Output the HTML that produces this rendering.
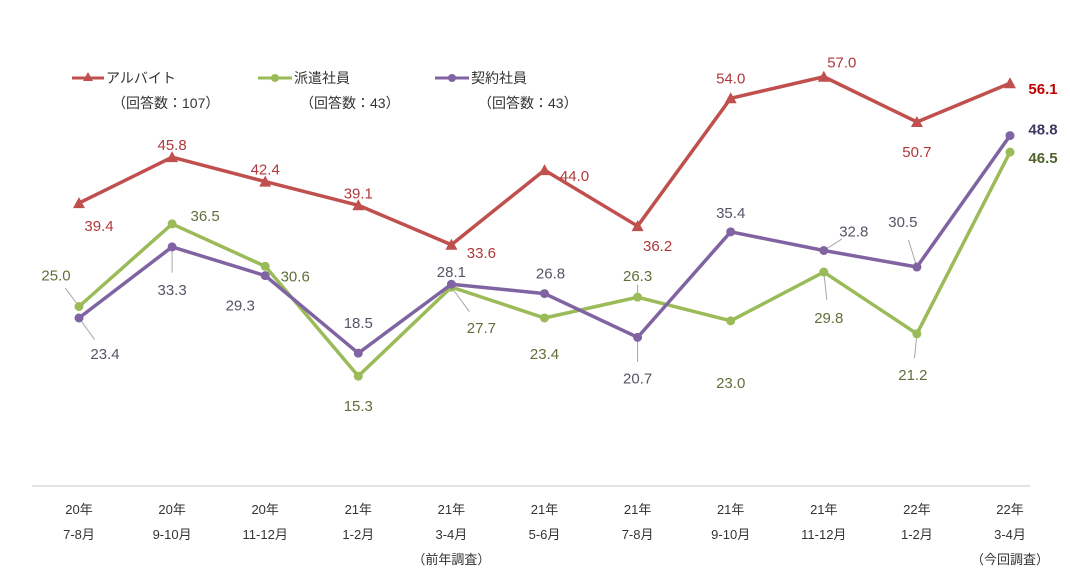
<!DOCTYPE html>
<html><head><meta charset="utf-8">
<style>
body{margin:0;background:#fff;}
svg{display:block;font-family:"Liberation Sans","Noto Sans CJK JP",sans-serif;}
</style></head>
<body>
<svg id="chart" width="1070" height="585" viewBox="0 0 1070 585">
  <line x1="32" y1="486" x2="1030" y2="486" stroke="#d9d9d9" stroke-width="1.5"/>
  <g id="legend">
    <g>
      <line x1="72" y1="78" x2="104" y2="78" stroke="#c0504d" stroke-width="3"/>
      <polygon points="88,72 93,81 83,81" fill="#c0504d"/>
      <text x="106" y="83" font-size="14" fill="#333">アルバイト</text>
      <text x="112" y="108" font-size="14" fill="#333">（回答数：107）</text>
    </g>
    <g>
      <line x1="258" y1="78" x2="292" y2="78" stroke="#9bbb59" stroke-width="3"/>
      <circle cx="275" cy="78" r="4" fill="#9bbb59"/>
      <text x="294" y="83" font-size="14" fill="#333">派遣社員</text>
      <text x="300" y="108" font-size="14" fill="#333">（回答数：43）</text>
    </g>
    <g>
      <line x1="435" y1="78" x2="469" y2="78" stroke="#8064a2" stroke-width="3"/>
      <circle cx="452" cy="78" r="4" fill="#8064a2"/>
      <text x="471" y="83" font-size="14" fill="#333">契約社員</text>
      <text x="478" y="108" font-size="14" fill="#333">（回答数：43）</text>
    </g>
  </g>
  <g id="xlabels"></g>
  <g id="leaders"></g>
  <g id="series"></g>
  <g id="labels"></g>
</svg>
<script>
const catYears = ["20年","20年","20年","21年","21年","21年","21年","21年","21年","22年","22年"];
const catMonths = ["7-8月","9-10月","11-12月","1-2月","3-4月","5-6月","7-8月","9-10月","11-12月","1-2月","3-4月"];
const catNotes = ["","","","","（前年調査）","","","","","","（今回調査）"];
const arubaito = [39.4,45.8,42.4,39.1,33.6,44.0,36.2,54.0,57.0,50.7,56.1];
const haken = [25.0,36.5,30.6,15.3,27.7,23.4,26.3,23.0,29.8,21.2,46.5];
const keiyaku = [23.4,33.3,29.3,18.5,28.1,26.8,20.7,35.4,32.8,30.5,48.8];

const NS="http://www.w3.org/2000/svg";
function xScale(i){return 79+i*93.1;}
function yScale(v){return 486-v*7.18;}
function mk(tag,attrs,parent){const e=document.createElementNS(NS,tag);for(const k in attrs)e.setAttribute(k,attrs[k]);parent.appendChild(e);return e;}

const xl=document.getElementById('xlabels');
catYears.forEach((y,i)=>{
  const x=xScale(i);
  const t1=mk('text',{x:x,y:514,'font-size':13,'text-anchor':'middle',fill:'#333'},xl);
  t1.textContent=y;
  
  
  const t2=mk('text',{x:x,y:539,'font-size':13,'text-anchor':'middle',fill:'#333'},xl);
  t2.textContent=catMonths[i];
  
  
  if(catNotes[i]){
    const t3=mk('text',{x:x,y:564,'font-size':13,'text-anchor':'middle',fill:'#333'},xl);
    t3.textContent=catNotes[i];
    
    
  }
});

const sg=document.getElementById('series');
const lg=document.getElementById('labels');
const ld=document.getElementById('leaders');
const series=[
  {name:'arubaito',vals:arubaito,color:'#c0504d',tc:'#b0383a',bc:'#c00000',marker:'tri',
   off:[[20,23],[0,-12],[0,-12],[0,-12],[30,8],[30,6],[20,20],[0,-20],[18,-14],[0,30],[33,6]],
   lead:[0,0,0,0,0,0,0,0,0,0,0]},
  {name:'haken',vals:haken,color:'#9bbb59',tc:'#5f6f3a',bc:'#4f6228',marker:'dot',
   off:[[-23,-31],[33,-8],[30,10],[0,30],[30,41],[0,36],[0,-21],[0,62],[5,46],[-4,41],[33,6]],
   lead:[1,0,0,0,1,0,1,0,1,1,0]},
  {name:'keiyaku',vals:keiyaku,color:'#8064a2',tc:'#555566',bc:'#403860',marker:'dot',
   off:[[26,36],[0,43],[-25,30],[0,-30],[0,-12],[6,-20],[0,41],[0,-19],[30,-19],[-14,-45],[33,-6]],
   lead:[1,1,0,0,0,0,1,0,1,1,0]}
];
series.forEach(s=>{
  s.vals.forEach((v,i)=>{
    if(!s.lead[i])return;
    const x=xScale(i),y=yScale(v),o=s.off[i];
    const tx=x+o[0]*0.6, ty=y+o[1]*0.6;
    const l=mk('line',{x1:x,y1:y,x2:tx,y2:ty,stroke:'#a6a6a6','stroke-width':1},ld);
    
    
  });
});
series.forEach(s=>{
  const pts=s.vals.map((v,i)=>xScale(i)+','+yScale(v)).join(' ');
  const pl=mk('polyline',{points:pts,fill:'none',stroke:s.color,'stroke-width':3.5,'stroke-linejoin':'round'},sg);
  
  
  s.vals.forEach((v,i)=>{
    const x=xScale(i),y=yScale(v);
    let m;
    if(s.marker==='tri') m=mk('polygon',{points:`${x},${y-6} ${x+6},${y+5} ${x-6},${y+5}`,fill:s.color},sg);
    else m=mk('circle',{cx:x,cy:y,r:4.5,fill:s.color},sg);
    
    
    const last=i===s.vals.length-1;
    const o=s.off[i];
    const t=mk('text',{x:x+o[0],y:y+o[1]+5,'font-size':15,'font-weight':last?'bold':'normal','text-anchor':'middle',fill:last?s.bc:s.tc},lg);
    t.textContent=v.toFixed(1);
    
    
  });
});
</script>
</body></html>
